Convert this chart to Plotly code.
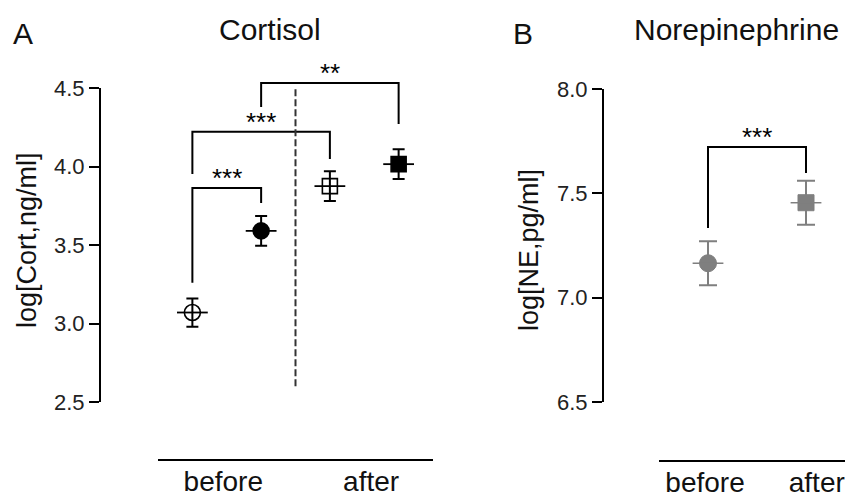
import plotly.graph_objects as go

W, H = 845, 498

# ---------------- data ----------------
cort_groups = ["before-1", "before-2", "after-1", "after-2"]
cort_x = [1, 2, 3, 4]
cort_mean = [3.07, 3.59, 3.875, 4.015]
cort_err = [0.09, 0.095, 0.095, 0.095]
cort_symbols = ["circle-open", "circle", "square-open", "square"]

ne_x = [1, 2]
ne_mean = [7.165, 7.455]
ne_err = [0.105, 0.105]
ne_symbols = ["circle", "square"]

cort_ticks = [2.5, 3.0, 3.5, 4.0, 4.5]
ne_ticks = [6.5, 7.0, 7.5, 8.0]
group_labels = ["before", "after"]

# significance brackets: (x_left, x_right, y_left_leg, y_top, y_right_leg, label)
cort_brackets = [
    (1, 2, 3.26, 3.863, 3.767, "***"),
    (1, 3, 3.952, 4.222, 4.048, "***"),
    (2, 4, 4.379, 4.532, 4.271, "**"),
]
ne_brackets = [
    (1, 2, 7.334, 7.722, 7.598, "***"),
]
divider_x = 2.5
divider_y = [2.6, 4.5]

# ---------------- helpers ----------------
def px(xp):
    return xp / W

def py(yp):
    return 1 - yp / H

FONT = "Liberation Sans, Arial, sans-serif"

fig = go.Figure()

# Panel A markers (on x3 / y)
for i in range(4):
    fig.add_trace(go.Scatter(
        x=[cort_x[i]], y=[cort_mean[i]], mode="markers",
        marker=dict(symbol=cort_symbols[i], size=16 if "circle" in cort_symbols[i] else 15,
                    color="black", line=dict(color="black", width=1.6)),
        error_y=dict(type="data", array=[cort_err[i]], color="black", thickness=2, width=6),
        xaxis="x3", yaxis="y", showlegend=False, cliponaxis=False))
    # horizontal mean line through marker
    fig.add_trace(go.Scatter(
        x=[cort_x[i]], y=[cort_mean[i]], mode="markers",
        marker=dict(symbol="line-ew", size=22, line=dict(color="black", width=1.8)),
        xaxis="x3", yaxis="y", showlegend=False, cliponaxis=False))

# Panel A brackets and divider (on x3 / y3)
for (xl, xr, yl, yt, yr, lab) in cort_brackets:
    fig.add_trace(go.Scatter(
        x=[xl, xl, xr, xr], y=[yl, yt, yt, yr], mode="lines",
        line=dict(color="black", width=2), xaxis="x3", yaxis="y3",
        showlegend=False, hoverinfo="skip"))
    fig.add_annotation(x=(xl + xr) / 2, y=yt, xref="x3", yref="y3", text=lab,
                       showarrow=False, yanchor="bottom", yshift=-7,
                       font=dict(family=FONT, size=26, color="black"))
fig.add_trace(go.Scatter(
    x=[divider_x, divider_x], y=divider_y, mode="lines",
    line=dict(color="#333333", width=2, dash="7px,3px"),
    xaxis="x3", yaxis="y3", showlegend=False, hoverinfo="skip"))

# Panel B markers (on x4 / y2)
GRAY = "#7f7f7f"
for i in range(2):
    fig.add_trace(go.Scatter(
        x=[ne_x[i]], y=[ne_mean[i]], mode="markers",
        marker=dict(symbol=ne_symbols[i], size=17 if ne_symbols[i] == "circle" else 16,
                    color=GRAY, line=dict(color=GRAY, width=1)),
        error_y=dict(type="data", array=[ne_err[i]], color=GRAY, thickness=2, width=9),
        xaxis="x4", yaxis="y2", showlegend=False, cliponaxis=False))
    fig.add_trace(go.Scatter(
        x=[ne_x[i]], y=[ne_mean[i]], mode="markers",
        marker=dict(symbol="line-ew", size=22, line=dict(color=GRAY, width=1.5)),
        xaxis="x4", yaxis="y2", showlegend=False, cliponaxis=False))

for (xl, xr, yl, yt, yr, lab) in ne_brackets:
    fig.add_trace(go.Scatter(
        x=[xl, xl, xr, xr], y=[yl, yt, yt, yr], mode="lines",
        line=dict(color="black", width=2), xaxis="x4", yaxis="y2",
        showlegend=False, hoverinfo="skip"))
    fig.add_annotation(x=(xl + xr) / 2, y=yt, xref="x4", yref="y2", text=lab,
                       showarrow=False, yanchor="bottom", yshift=-7,
                       font=dict(family=FONT, size=26, color="black"))

# ---------------- axes ----------------
# Panel A vertical scale: 2.5 at 402px, 4.5 at 88px
A_top, A_bot = 88, 402
scaleA = (A_bot - A_top) / (cort_ticks[-1] - cort_ticks[0])
y3_top_px, y3_bot_px = 40, 440
y3_range = [cort_ticks[0] - (y3_bot_px - A_bot) / scaleA,
            cort_ticks[-1] + (A_top - y3_top_px) / scaleA]

B_top, B_bot = 89, 402
xline_y = py(460)

tickfont = dict(family=FONT, size=22, color="#222222")
labfont = dict(family=FONT, size=28, color="#111111")

fig.update_layout(
    width=W, height=H,
    margin=dict(l=0, r=0, t=0, b=0, autoexpand=False),
    plot_bgcolor="rgba(0,0,0,0)", paper_bgcolor="white",
    xaxis3=dict(domain=[px(158), px(433)], range=[0.5, 4.5], anchor="free",
                position=xline_y, showline=True, linecolor="black", linewidth=2,
                ticks="", tickvals=[1.45, 3.6], ticktext=group_labels,
                ticklabelstandoff=-4,
                tickfont=labfont, showgrid=False, zeroline=False),
    yaxis=dict(domain=[py(A_bot), py(A_top)], range=[cort_ticks[0], cort_ticks[-1]],
               anchor="free", position=px(100), showline=True, linecolor="black",
               linewidth=2, ticks="outside", ticklen=10, tickwidth=2, tickcolor="black",
               tickvals=cort_ticks, tickformat=".1f", tickfont=tickfont,
               showgrid=False, zeroline=False),
    yaxis3=dict(domain=[py(y3_bot_px), py(y3_top_px)], range=y3_range, anchor="x3",
                visible=False, showgrid=False, zeroline=False),
    xaxis4=dict(domain=[px(659), 1.0], range=[0.5, 1 + (845 - 708) / 98], anchor="free",
                position=py(461), showline=True, linecolor="black", linewidth=2,
                ticks="", tickvals=[0.97, 2.11], ticktext=group_labels,
                ticklabelstandoff=-4,
                tickfont=labfont, showgrid=False, zeroline=False),
    yaxis2=dict(domain=[py(B_bot), py(B_top)], range=[ne_ticks[0], ne_ticks[-1]],
                anchor="free", position=px(603), showline=True, linecolor="black",
                linewidth=2, ticks="outside", ticklen=10, tickwidth=2, tickcolor="black",
                tickvals=ne_ticks, tickformat=".1f", tickfont=tickfont,
                showgrid=False, zeroline=False),
)

# titles and axis titles
titles = [("A", 23, 34, 30), ("Cortisol", 270, 30, 30), ("B", 523, 34, 30),
          ("Norepinephrine", 736, 30, 30)]
for t, xp, yp, s in titles:
    fig.add_annotation(x=px(xp), y=py(yp), xref="paper", yref="paper", text=t,
                       showarrow=False, xanchor="center", yanchor="middle",
                       font=dict(family=FONT, size=s, color="#111111"))

fig.add_annotation(x=px(27), y=py(240), xref="paper", yref="paper",
                   text="log[Cort,ng/ml]", textangle=-90, showarrow=False,
                   xanchor="center", yanchor="middle",
                   font=dict(family=FONT, size=27, color="#111111"))
fig.add_annotation(x=px(529), y=py(250), xref="paper", yref="paper",
                   text="log[NE,pg/ml]", textangle=-90, showarrow=False,
                   xanchor="center", yanchor="middle",
                   font=dict(family=FONT, size=27, color="#111111"))

fig.write_html("out.html",
               config={"displayModeBar": False, "staticPlot": True},
               post_script="document.body.style.margin='0px';"
                           "document.body.style.overflow='hidden';")
